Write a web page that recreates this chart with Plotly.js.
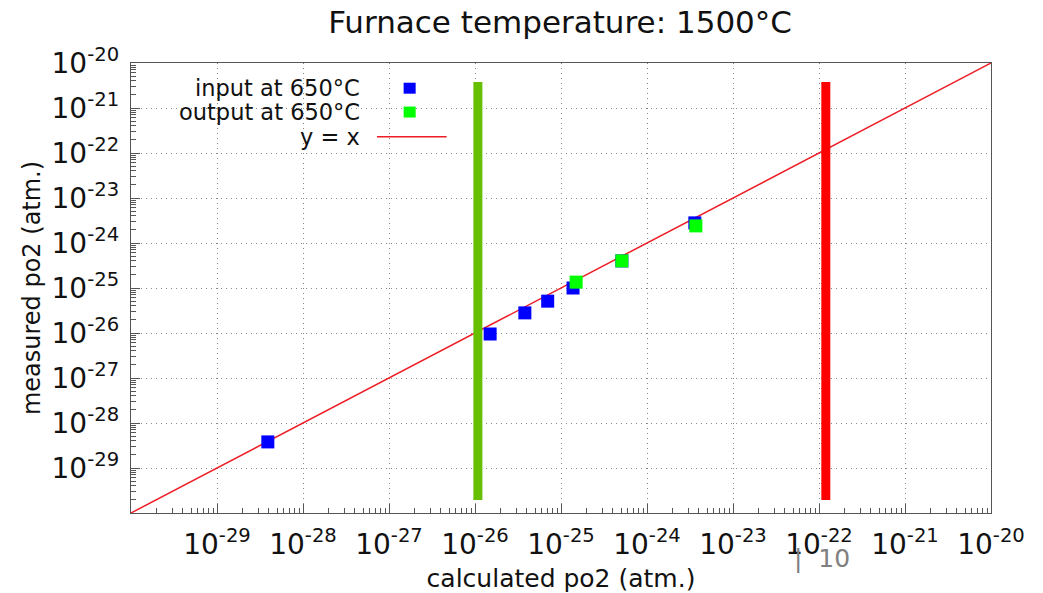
<!DOCTYPE html>
<html>
<head>
<meta charset="utf-8">
<script src="https://cdn.plot.ly/plotly-3.0.1.min.js"></script>
<style>html,body{margin:0;padding:0;background:#fff;}#chart{width:1043px;height:593px;}</style>
</head>
<body>
<div id="chart"></div>
<script>
// data
const inputX  = [3.9e-29, 1.5e-26, 3.8e-26, 7.0e-26, 1.38e-25, 5.1e-25, 3.6e-24];
const inputY  = [3.8e-29, 9.5e-27, 2.8e-26, 5.1e-26, 1.0e-25, 4.0e-25, 2.8e-24];
const outputX = [1.5e-25, 5.1e-25, 3.7e-24];
const outputY = [1.35e-25, 4.0e-25, 2.4e-24];
const lineXY  = [1e-30, 1e-20];
const greenBarX = [1.08e-26, 1.08e-26];
const redBarX   = [1.2e-22, 1.2e-22];
const barY      = [1.95e-30, 3.8e-21];
const xTickVals = [1e-29,1e-28,1e-27,1e-26,1e-25,1e-24,1e-23,1e-22,1e-21,1e-20];
const xTickText = ['-29','-28','-27','-26','-25','-24','-23','-22','-21','-20'];
const yTickVals = [1e-29,1e-28,1e-27,1e-26,1e-25,1e-24,1e-23,1e-22,1e-21,1e-20];
const yTickText = ['-29','-28','-27','-26','-25','-24','-23','-22','-21','-20'];

const minorVals = [];
for (let e = -30; e < -20; e++) for (let m = 2; m <= 9; m++) minorVals.push(m * Math.pow(10, e));

const font = 'DejaVu Sans, Liberation Sans, sans-serif';

const traces = [
  {x: lineXY, y: lineXY, mode: 'lines', line: {color: '#ee1c25', width: 1.5}, hoverinfo: 'skip', showlegend: false},
  {x: greenBarX, y: barY, mode: 'lines', line: {color: '#66bf00', width: 9}, showlegend: false},
  {x: redBarX, y: barY, mode: 'lines', line: {color: '#ff0000', width: 9}, showlegend: false},
  {x: inputX, y: inputY, mode: 'markers', marker: {symbol: 'square', size: 13, color: '#0000ff', line: {width: 0}}, showlegend: false},
  {x: outputX, y: outputY, mode: 'markers', marker: {symbol: 'square', size: 13, color: '#00ff00', line: {width: 0}}, showlegend: false}
];

function axis(vals, txt) {
  return {
    type: 'log', range: [-30, -20], tickmode: 'array', tickvals: vals,
    ticktext: txt.map(t => '10<sup>' + t + '</sup>'),
    ticks: 'inside', ticklen: 9, tickcolor: '#555', tickwidth: 1,
    showline: true, linecolor: '#555', linewidth: 1.2, mirror: true,
    showgrid: true, gridcolor: '#888', griddash: '1px,4px', gridwidth: 1,
    zeroline: false,
    tickfont: {family: font, size: 28, color: '#111'},
    minor: {tickmode: 'array', tickvals: minorVals, ticks: 'inside', ticklen: 5, tickcolor: '#555', showgrid: false}
  };
}

const xa = axis(xTickVals, xTickText);
xa.ticklabelstandoff = 6;
xa.title = {text: 'calculated po2 (atm.)', font: {family: font, size: 25, color: '#111'}, standoff: 10};
const ya = axis(yTickVals, yTickText);
ya.ticklabelstandoff = 5;
ya.title = {text: 'measured po2 (atm.)', font: {family: font, size: 24, color: '#111'}, standoff: 4};

const lx = 0.2686, sx = 0.324, sw = 0.0070, sh = 0.0122;
const rows = [0.944, 0.891, 0.836];

const layout = {
  width: 1043, height: 593,
  margin: {l: 131, r: 52, t: 63, b: 80},
  paper_bgcolor: '#fff', plot_bgcolor: '#fff',
  title: {text: 'Furnace temperature: 1500°C', font: {family: font, size: 31, color: '#111'}, x: 0.537, xanchor: 'center', y: 0.962, yanchor: 'middle'},
  xaxis: xa, yaxis: ya,
  showlegend: false,
  annotations: [
    {xref: 'paper', yref: 'paper', x: lx, y: rows[0], xanchor: 'right', yanchor: 'middle', text: 'input at 650°C', showarrow: false, font: {family: font, size: 22.5, color: '#111'}},
    {xref: 'paper', yref: 'paper', x: lx, y: rows[1], xanchor: 'right', yanchor: 'middle', text: 'output at 650°C', showarrow: false, font: {family: font, size: 22.5, color: '#111'}},
    {xref: 'paper', yref: 'paper', x: lx, y: rows[2], xanchor: 'right', yanchor: 'middle', text: 'y = x', showarrow: false, font: {family: font, size: 22.5, color: '#111'}},
    {xref: 'paper', yref: 'paper', x: 0.803, y: -0.1, xanchor: 'center', yanchor: 'middle', text: '|  10', showarrow: false, font: {family: font, size: 25, color: '#808080'}}
  ],
  shapes: [
    {type: 'rect', xref: 'paper', yref: 'paper', x0: sx - sw, x1: sx + sw, y0: rows[0] - sh, y1: rows[0] + sh, fillcolor: '#0000ff', line: {width: 0}},
    {type: 'rect', xref: 'paper', yref: 'paper', x0: sx - sw, x1: sx + sw, y0: rows[1] - sh, y1: rows[1] + sh, fillcolor: '#00ff00', line: {width: 0}},
    {type: 'line', xref: 'paper', yref: 'paper', x0: 0.286, x1: 0.367, y0: rows[2], y1: rows[2], line: {color: '#ee1c25', width: 1.5}}
  ]
};

Plotly.newPlot('chart', traces, layout, {displayModeBar: false, staticPlot: true});
</script>
</body>
</html>
